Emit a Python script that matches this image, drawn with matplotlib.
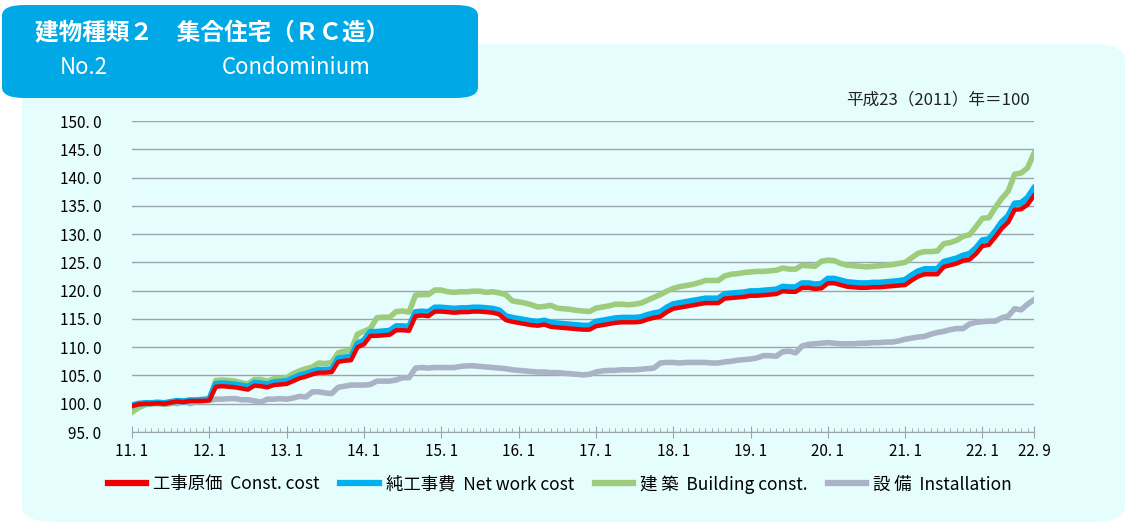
import matplotlib.pyplot as plt
from matplotlib.patches import FancyBboxPatch
import numpy as np

plt.rcParams['font.family'] = ['Noto Sans CJK JP', 'DejaVu Sans']

# monthly index values, 2011.1 .. 2022.9 (2011 = 100)
const_cost = [
    99.6, 99.9, 100.0, 100.0, 100.1, 100.0, 100.2, 100.4, 100.3, 100.5, 100.5, 100.5,
    100.6, 103.0, 103.1, 103.0, 102.9, 102.7, 102.5, 103.2, 103.1, 102.9, 103.3, 103.4,
    103.5, 104.0, 104.5, 104.8, 105.2, 105.5, 105.5, 105.6, 107.4, 107.6, 107.7, 110.0,
    110.5, 112.0, 112.0, 112.1, 112.2, 113.0, 113.0, 112.9, 115.5, 115.6, 115.5, 116.3,
    116.3, 116.2, 116.1, 116.2, 116.2, 116.3, 116.3, 116.2, 116.1, 115.8, 114.8, 114.5,
    114.3, 114.1, 113.9, 113.8, 114.0, 113.6, 113.5, 113.4, 113.3, 113.2, 113.1, 113.1,
    113.7, 113.9, 114.1, 114.3, 114.4, 114.4, 114.4, 114.5, 114.9, 115.2, 115.4, 116.2,
    116.8, 117.0, 117.2, 117.4, 117.6, 117.8, 117.8, 117.8, 118.6, 118.7, 118.8, 118.9,
    119.1, 119.1, 119.2, 119.3, 119.4, 119.9, 119.8, 119.8, 120.5, 120.5, 120.3, 120.4,
    121.3, 121.3, 121.0, 120.7, 120.6, 120.5, 120.5, 120.6, 120.6, 120.7, 120.8, 120.9,
    121.0, 121.8, 122.5, 122.9, 122.9, 122.9, 124.2, 124.5, 124.8, 125.3, 125.5, 126.5,
    127.9, 128.1, 129.5, 131.0, 132.1, 134.3, 134.4, 135.2, 136.8,
]
net_work_cost = [
    99.7, 100.0, 100.1, 100.1, 100.2, 100.1, 100.3, 100.5, 100.4, 100.6, 100.6, 100.7,
    100.8, 103.5, 103.6, 103.5, 103.4, 103.2, 103.0, 103.7, 103.6, 103.4, 103.8, 103.9,
    104.0, 104.5, 105.0, 105.3, 105.7, 106.0, 106.0, 106.1, 108.0, 108.2, 108.3, 110.6,
    111.2, 112.7, 112.7, 112.8, 112.9, 113.7, 113.7, 113.6, 116.2, 116.3, 116.2, 117.0,
    117.0, 116.9, 116.8, 116.9, 116.9, 117.0, 117.0, 116.9, 116.8, 116.5, 115.5, 115.2,
    115.0, 114.8, 114.6, 114.5, 114.7, 114.3, 114.2, 114.1, 114.0, 113.9, 113.8, 113.8,
    114.5, 114.7, 114.9, 115.1, 115.2, 115.2, 115.2, 115.3, 115.7, 116.0, 116.2, 117.0,
    117.6, 117.8, 118.0, 118.2, 118.4, 118.6, 118.6, 118.6, 119.4, 119.5, 119.6, 119.7,
    119.9, 119.9, 120.0, 120.1, 120.2, 120.7, 120.6, 120.6, 121.3, 121.3, 121.1, 121.2,
    122.1, 122.1, 121.8, 121.5, 121.4, 121.3, 121.3, 121.4, 121.4, 121.5, 121.6, 121.7,
    121.9, 122.7, 123.4, 123.8, 123.8, 123.8, 125.1, 125.4, 125.7, 126.2, 126.5, 127.5,
    128.9, 129.1, 130.5, 132.1, 133.2, 135.4, 135.5, 136.4, 138.1,
]
building = [
    98.5, 99.3, 99.8, 100.0, 100.0, 99.9, 100.0, 100.5, 100.5, 100.6, 100.4, 100.7,
    100.6, 104.1, 104.2, 104.1, 104.0, 103.7, 103.5, 104.3, 104.3, 104.0, 104.4, 104.5,
    104.6, 105.3, 105.8, 106.2, 106.5, 107.2, 107.1, 107.3, 109.0, 109.3, 109.4, 112.3,
    112.8, 113.3, 115.2, 115.3, 115.3, 116.3, 116.4, 116.2, 119.2, 119.3, 119.3, 120.1,
    120.1, 119.8, 119.7, 119.8, 119.8, 119.9, 119.9, 119.7, 119.8, 119.6, 119.3, 118.2,
    118.0, 117.8, 117.5, 117.1, 117.2, 117.4, 116.9, 116.8, 116.7, 116.5, 116.4, 116.3,
    116.9, 117.1, 117.3, 117.6, 117.6, 117.5, 117.6, 117.8, 118.3, 118.8, 119.3, 119.9,
    120.4, 120.7, 120.9, 121.1, 121.4, 121.8, 121.8, 121.8, 122.6, 122.9, 123.0, 123.2,
    123.3, 123.4, 123.4, 123.5, 123.6, 124.0, 123.8, 123.8, 124.5, 124.4, 124.3, 125.2,
    125.4, 125.3, 124.8, 124.5, 124.4, 124.3, 124.2, 124.3, 124.4, 124.5, 124.6, 124.8,
    125.0, 125.8, 126.6, 126.9, 126.9, 127.0, 128.3, 128.5, 128.9, 129.6, 129.9, 131.3,
    132.8, 132.9, 134.7, 136.3, 137.6, 140.6, 140.8, 141.7, 144.3,
]
installation = [
    99.5, 99.8, 100.0, 100.1, 100.2, 100.0, 100.3, 100.0, 100.5, 100.0, 100.4, 100.5,
    100.6, 100.8, 100.8, 100.9, 100.9, 100.7, 100.7, 100.5, 100.3, 100.8, 100.8, 100.9,
    100.8, 101.0, 101.3, 101.2, 102.1, 102.1, 101.9, 101.8, 102.9, 103.1, 103.3, 103.3,
    103.3, 103.4, 104.0, 104.0, 104.0, 104.2, 104.6, 104.6, 106.3, 106.4, 106.3, 106.4,
    106.4, 106.4, 106.4, 106.6, 106.7, 106.7, 106.6, 106.5, 106.4, 106.3, 106.2, 106.0,
    105.9, 105.8, 105.7, 105.6, 105.6, 105.5, 105.5, 105.4, 105.3, 105.2, 105.1, 105.2,
    105.6, 105.8, 105.9, 105.9, 106.0, 106.0, 106.0, 106.1, 106.2, 106.3, 107.2, 107.3,
    107.3, 107.2, 107.3, 107.3, 107.3, 107.3, 107.2, 107.2, 107.4, 107.5, 107.7, 107.8,
    107.9, 108.1, 108.5, 108.5, 108.4, 109.2, 109.3, 109.0, 110.2, 110.5, 110.6, 110.7,
    110.8, 110.7, 110.6, 110.6, 110.6, 110.7, 110.7, 110.8, 110.8, 110.9, 110.9, 111.1,
    111.4, 111.6, 111.8, 111.9, 112.3, 112.6, 112.8, 113.1, 113.3, 113.3, 114.1, 114.4,
    114.5, 114.6, 114.6, 115.2, 115.5, 116.8, 116.6, 117.6, 118.4,
]
xtick_labels = ['11.1', '12.1', '13.1', '14.1', '15.1', '16.1', '17.1', '18.1',
                '19.1', '20.1', '21.1', '22.1', '22.9']

fig = plt.figure(figsize=(11.31, 5.28), dpi=100)

# light cyan panel and blue title box (behind the axes)
fig.patches.append(FancyBboxPatch((22 / 1131, 6 / 528), 1103 / 1131, 478 / 528,
                                  boxstyle='round,pad=0,rounding_size=0.03',
                                  transform=fig.transFigure, fc='#e6fdfd', ec='none',
                                  zorder=-2))
fig.patches.append(FancyBboxPatch((2 / 1131, 430 / 528), 476 / 1131, 93 / 528,
                                  boxstyle='round,pad=0,rounding_size=0.02',
                                  transform=fig.transFigure, fc='#00a9e6', ec='none',
                                  zorder=-1))
fig.text(35 / 1131, 1 - 33 / 528, '建物種類２　集合住宅（ＲＣ造）', color='white',
         fontsize=17, va='center', fontweight='bold')
fig.text(60 / 1131, 1 - 68 / 528, 'No.2', color='white', fontsize=16, va='center')
fig.text(222 / 1131, 1 - 68 / 528, 'Condominium', color='white', fontsize=16, va='center')
fig.text(1030 / 1131, 1 - 100 / 528, '平成23（2011）年＝100', fontsize=12,
         ha='right', va='center', color='#222222')

ax = fig.add_axes([132 / 1131, 1 - 432 / 528, 902 / 1131, 311 / 528])
ax.set_facecolor('none')
x = np.arange(len(const_cost))
ax.plot(x, installation, color='#aab2c6', lw=4, label='設 備  Installation', zorder=2)
ax.plot(x, building, color='#9ccc7c', lw=4, label='建 築  Building const.', zorder=3)
ax.plot(x, net_work_cost, color='#00b0f0', lw=4.5, label='純工事費  Net work cost', zorder=4)
ax.plot(x, const_cost, color='#ee0000', lw=3.2, label='工事原価  Const. cost', zorder=5)

ax.set_xlim(0, 140)
ax.set_ylim(95, 150)
ax.set_yticks(np.arange(95, 151, 5))
ax.set_yticklabels([f'{v:.1f}'.replace('.', '. ') for v in np.arange(95, 151, 5)])
ax.set_xticks(list(range(0, 133, 12)) + [140])
ax.set_xticklabels([s.replace('.', '. ') for s in xtick_labels])
ax.set_xticks(range(0, 141), minor=True)
ax.grid(axis='y', color='#9aa4ad', lw=1)
ax.set_axisbelow(True)
for s in ['top', 'right', 'left']:
    ax.spines[s].set_visible(False)
ax.spines['bottom'].set_color('#9aa4ad')
ax.tick_params(axis='y', length=0, labelsize=11, pad=22)
ax.tick_params(axis='x', which='major', direction='inout', length=8, color='#9aa4ad',
               labelsize=11, pad=4)
ax.tick_params(axis='x', which='minor', direction='in', length=3, color='#9aa4ad')

h, l = ax.get_legend_handles_labels()
order = [3, 2, 1, 0]
leg = fig.legend([h[i] for i in order], [l[i] for i in order], ncol=4, frameon=False,
                 loc='center', bbox_to_anchor=(560 / 1131, 1 - 484 / 528), fontsize=12.5,
                 handlelength=2.2, columnspacing=1.2, handletextpad=0.4)
for line in leg.get_lines():
    line.set_linewidth(4.5)

fig.savefig('out.png', dpi=100)
